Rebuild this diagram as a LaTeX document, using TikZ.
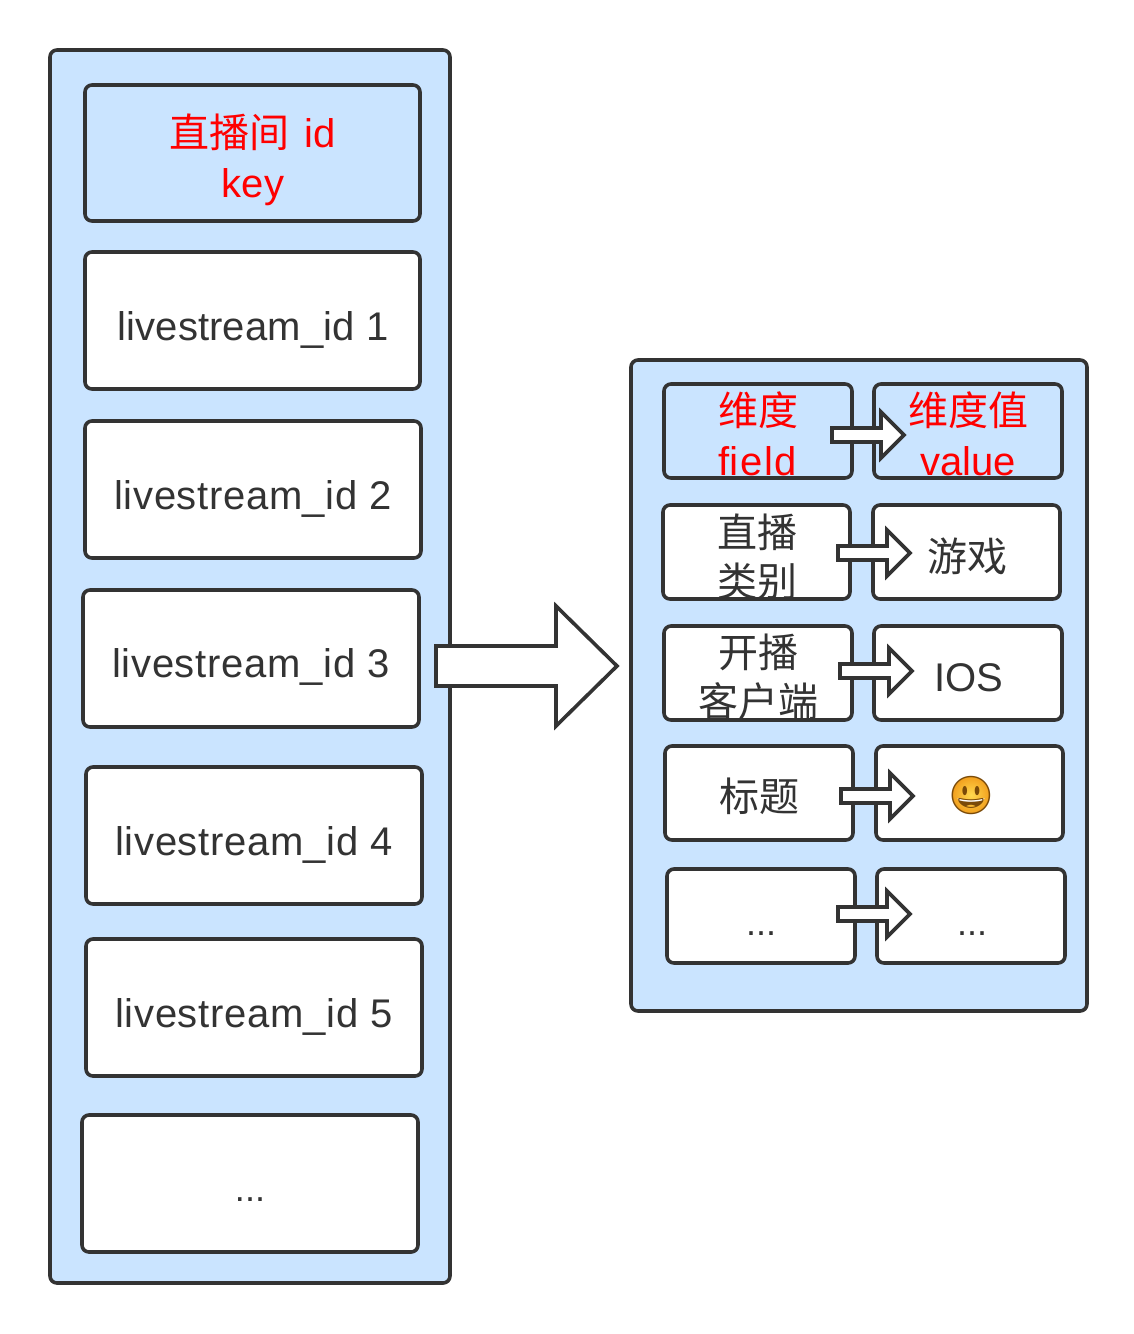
\documentclass[tikz,border=0pt]{standalone}
\usepackage{fontspec}
\setmainfont{Liberation Sans}
\newfontfamily\cjkfont{Noto Sans CJK SC}
\newfontfamily\emojifont{Noto Emoji}
\definecolor{panelblue}{HTML}{CAE4FF}
\definecolor{inkgray}{HTML}{333333}
\definecolor{keyred}{HTML}{FF0000}
\definecolor{textgray}{HTML}{333333}
\definecolor{emojiyellow}{HTML}{FFD94F}
\definecolor{emojiorange}{HTML}{F2A01E}
\definecolor{emojibrown}{HTML}{7A4A08}
\newcommand{\cjk}[1]{{\cjkfont #1}}
\newcommand{\spaced}[2]{{\addfontfeature{LetterSpace=#1}#2}}
% \boxat{name}{x1}{y1}{x2}{y2}{style}
\newcommand{\boxat}[6]{\node[#6,minimum width=#4pt-#2pt,minimum height=#5pt-#3pt] (#1) at ({(#2+#4)/2},{(#3+#5)/2}) {};}
% \blockarrow{tail x}{y}{tip x}{head base x}{shaft half}{head half}
\newcommand{\blockarrow}[6]{\draw[blockarrow] (#1,#2-#5) -- (#4,#2-#5) -- (#4,#2-#6) -- (#3,#2) -- (#4,#2+#6) -- (#4,#2+#5) -- (#1,#2+#5) -- cycle;}
\tikzset{
  panelbox/.style={draw=inkgray,fill=panelblue,line width=3.6pt,rounded corners=7pt,inner sep=0pt,outer sep=0pt},
  whitebox/.style={panelbox,fill=white},
  blockarrow/.style={draw=inkgray,fill=white,line width=3.6pt,miter limit=10},
  lbl/.style={font=\fontsize{40}{40}\selectfont,text=textgray,inner sep=0pt,anchor=base},
  redlbl/.style={lbl,text=keyred},
  dotlbl/.style={lbl,font=\fontsize{36}{36}\selectfont},
}
\begin{document}
\begin{tikzpicture}[x=1pt,y=-1pt]
\useasboundingbox (0,0) rectangle (1134,1334);
% left panel
\boxat{leftpanel}{50}{50}{450}{1283}{panelbox}
\boxat{keybox}{85}{85}{420}{221}{panelbox}
\boxat{idone}{85}{252}{420}{389}{whitebox}
\boxat{idtwo}{85}{421}{421}{558}{whitebox}
\boxat{idthree}{83}{590}{419}{727}{whitebox}
\boxat{idfour}{86}{767}{422}{904}{whitebox}
\boxat{idfive}{86}{939}{422}{1076}{whitebox}
\boxat{idmore}{82}{1115}{418}{1252}{whitebox}
\node[redlbl] (keytitle) at (253,147) {\cjk{直播间}\hspace{4pt} id};
\node[redlbl] (keyword) at (253,197) {key};
\node[lbl] (idonetext) at (253,340) {\spaced{0.4}{livestream\_id 1}};
\node[lbl] (idtwotext) at (253,509) {\spaced{1.6}{livestream\_id 2}};
\node[lbl] (idthreetext) at (251,677) {\spaced{1.6}{livestream\_id 3}};
\node[lbl] (idfourtext) at (254,855) {\spaced{1.6}{livestream\_id 4}};
\node[lbl] (idfivetext) at (254,1027) {\spaced{1.6}{livestream\_id 5}};
\node[dotlbl] (idmoretext) at (250,1201) {...};
% right panel
\boxat{rightpanel}{631}{360}{1087}{1011}{panelbox}
\boxat{fieldhead}{664}{384}{852}{478}{panelbox}
\boxat{valuehead}{874}{384}{1062}{478}{panelbox}
\boxat{fieldone}{663}{505}{850}{599}{whitebox}
\boxat{valueone}{873}{505}{1060}{599}{whitebox}
\boxat{fieldtwo}{664}{626}{852}{720}{whitebox}
\boxat{valuetwo}{874}{626}{1062}{720}{whitebox}
\boxat{fieldthree}{665}{746}{853}{840}{whitebox}
\boxat{valuethree}{876}{746}{1063}{840}{whitebox}
\boxat{fieldfour}{667}{869}{855}{963}{whitebox}
\boxat{valuefour}{877}{869}{1065}{963}{whitebox}
\node[redlbl] (fieldcn) at (758,425) {\cjk{维度}};
\node[redlbl] (fieldword) at (758,475) {\spaced{4}{ﬁeld}};
\node[redlbl] (valuecn) at (968,425) {\cjk{维度值}};
\node[redlbl] (valueword) at (968,475) {value};
\node[lbl] (liveone) at (757,547) {\cjk{直播}};
\node[lbl] (livetwo) at (757,596) {\cjk{类别}};
\node[lbl] (gametext) at (967,571) {\cjk{游戏}};
\node[lbl] (clientone) at (758,667) {\cjk{开播}};
\node[lbl] (clienttwo) at (758,716) {\cjk{客户端}};
\node[lbl] (iostext) at (969,691) {IOS};
\node[lbl] (titletext) at (759,811) {\cjk{标题}};
\node[circle,inner color=emojiyellow,outer color=emojiorange,minimum size=37pt,inner sep=0pt] (emojidisc) at (971,795) {};
\fill[white] (957.5,798) .. controls (965,801) and (977,801) .. (984.5,798) .. controls (983,806) and (959,806) .. (957.5,798) -- cycle;
\node[inner sep=0pt,text=emojibrown,font=\fontsize{38}{38}\emojifont] (emojitext) at (971,795) {😃};
\node[dotlbl] (dotsleft) at (761,935) {...};
\node[dotlbl] (dotsright) at (972,935) {...};
% block arrows
\blockarrow{436}{666}{617}{556}{20}{60}
\blockarrow{832}{435}{904}{881}{7}{23}
\blockarrow{838}{553}{910}{887}{7}{23}
\blockarrow{840}{671}{912}{889}{7}{23}
\blockarrow{841}{796}{913}{890}{7}{23}
\blockarrow{838}{914}{910}{887}{7}{23}
\end{tikzpicture}
\end{document}
